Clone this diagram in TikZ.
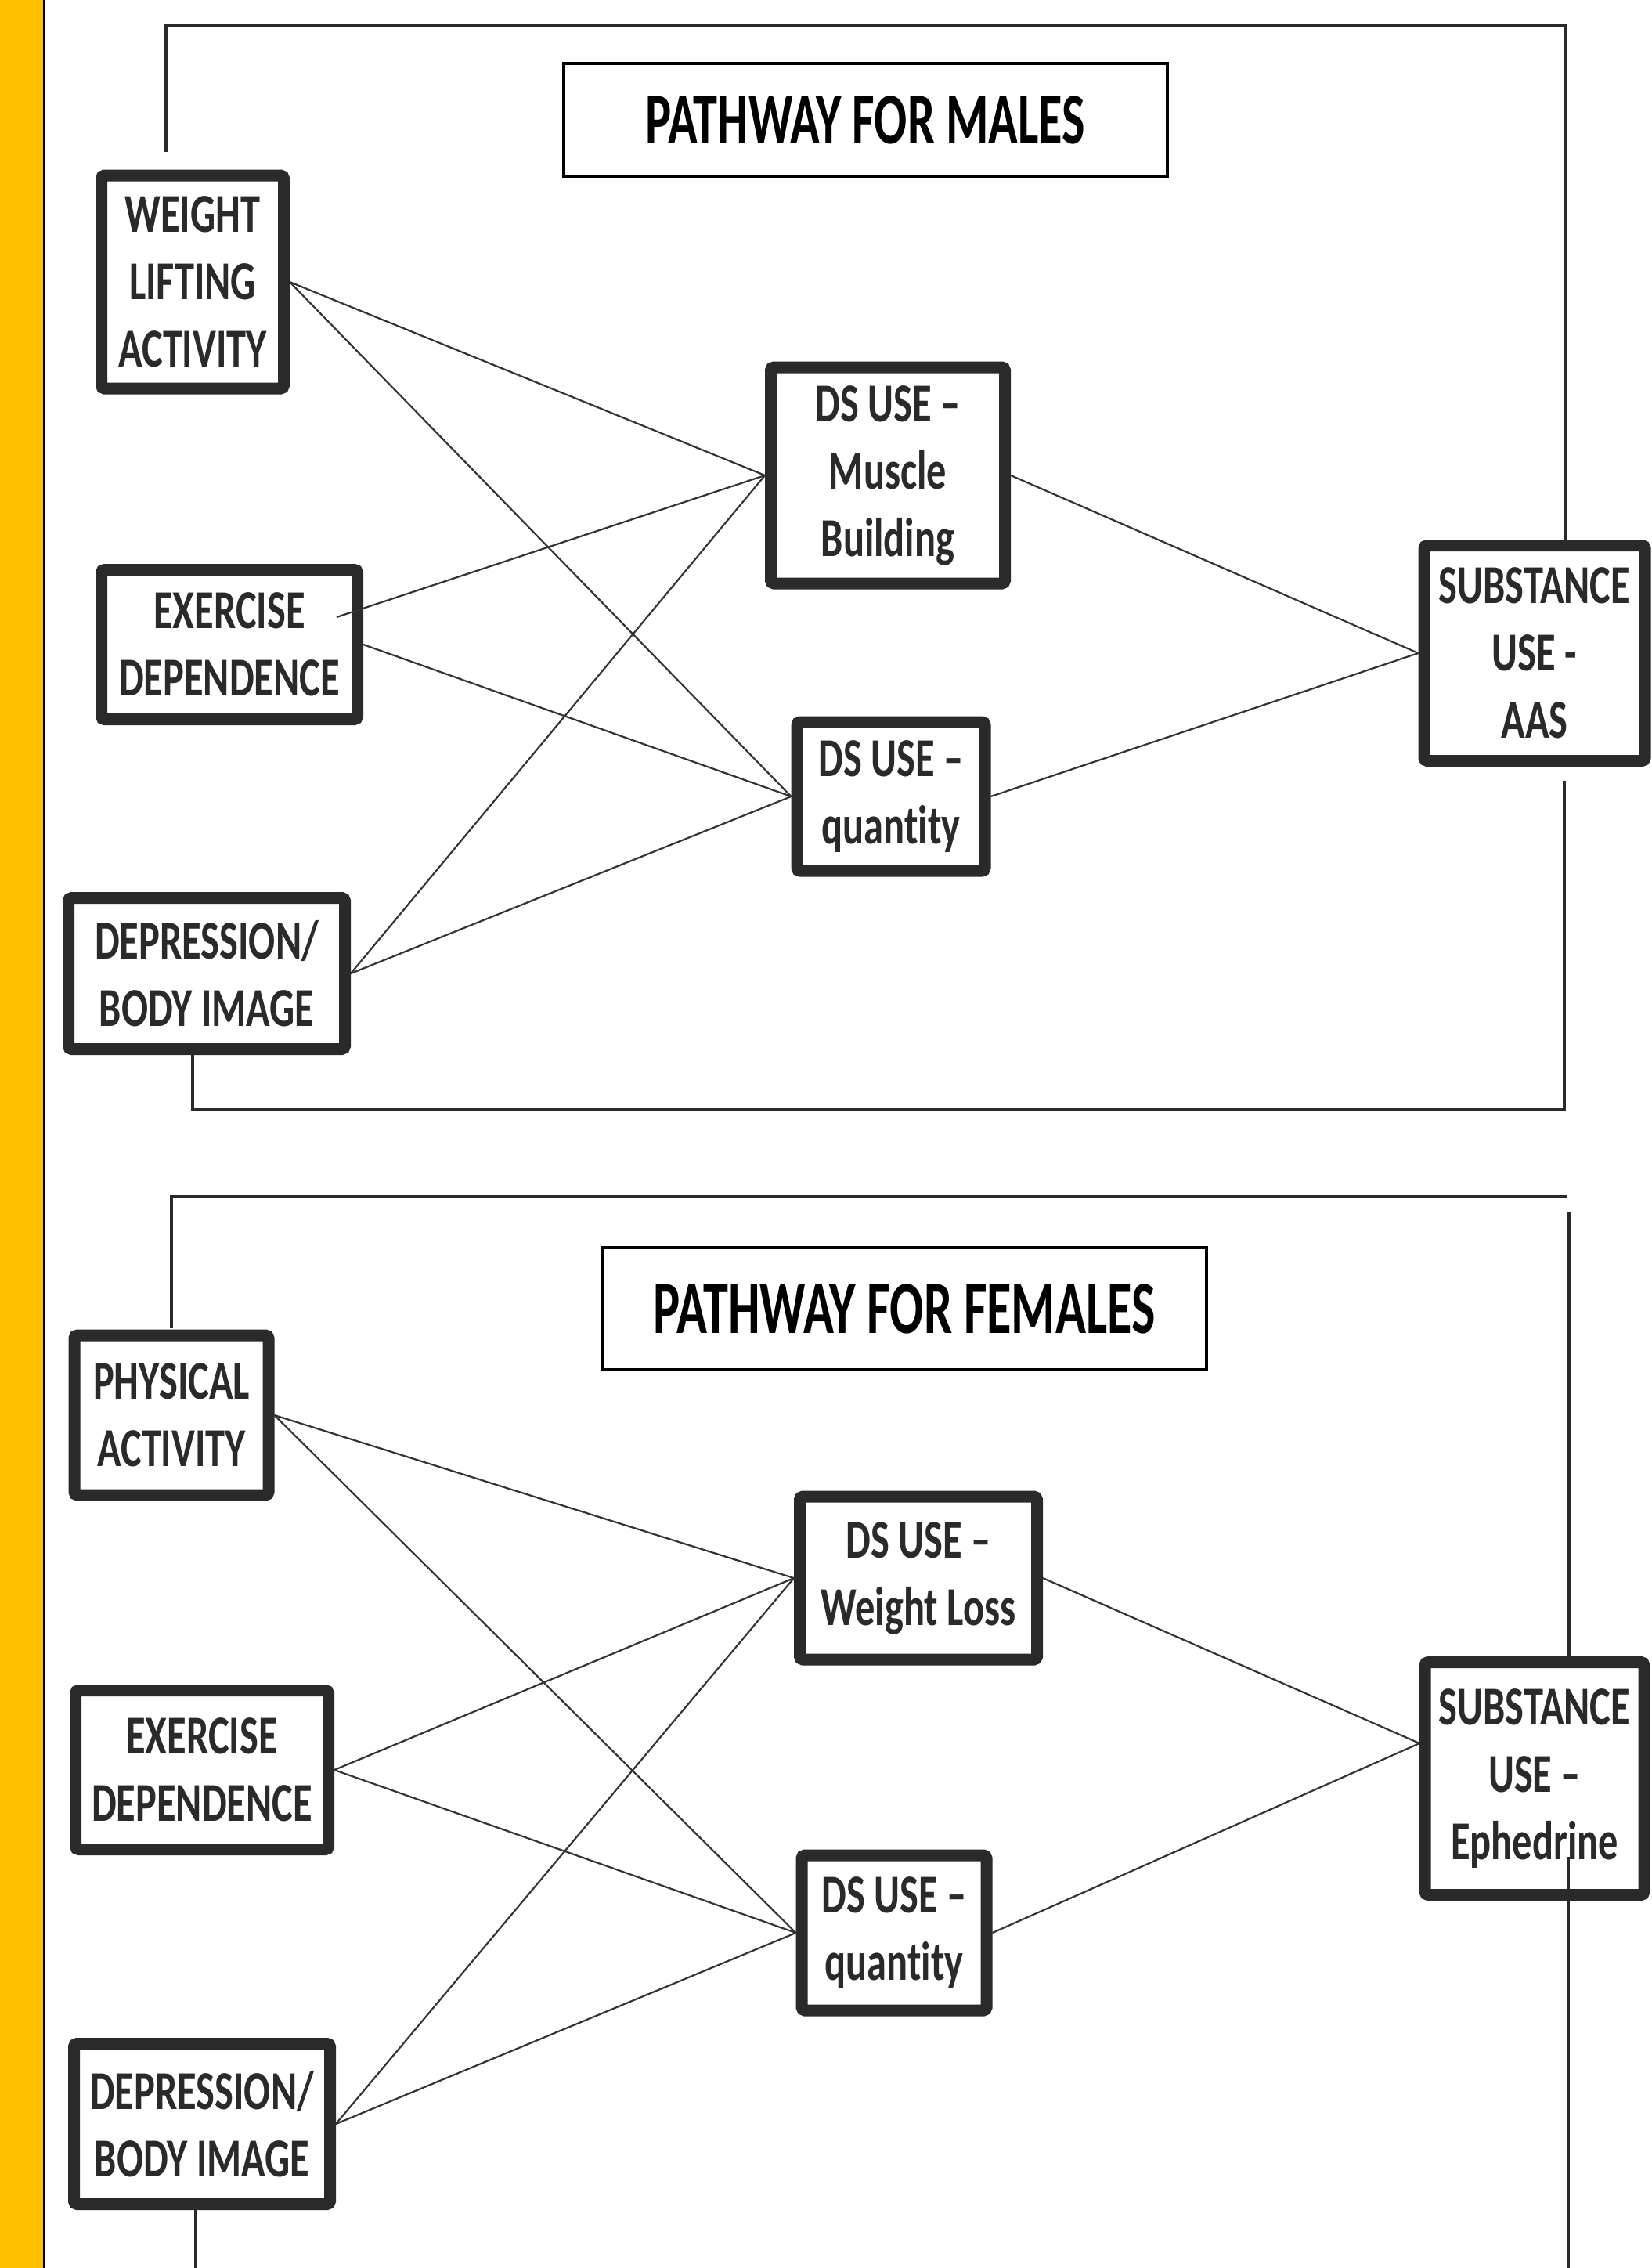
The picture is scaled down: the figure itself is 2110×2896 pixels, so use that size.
\documentclass[tikz,border=0pt]{standalone}
\usepackage{fontspec}
\setmainfont{Carlito}
\newfontfamily\boxfont{Carlito}[FakeStretch=0.72, Ligatures={TeX,NoCommon}]
\newfontfamily\headfont{Carlito}[FakeStretch=0.67, Ligatures={TeX,NoCommon}]
\definecolor{gold}{HTML}{FFC000}
\definecolor{boxgray}{HTML}{2A2A2A}
\definecolor{linkgray}{HTML}{333333}

\begin{document}
\begin{tikzpicture}[x=0.25pt, y=-0.25pt,
	varbox/.style={draw=boxgray, line width=3.75pt, fill=white, rounded corners=1pt, inner sep=0pt,
		align=center, text=boxgray, font=\boxfont\bfseries\fontsize{17.5pt}{21.5pt}\selectfont},
	titlebox/.style={draw=black, line width=1pt, fill=white, inner sep=0pt,
		font=\headfont\bfseries\fontsize{23.25pt}{28pt}\selectfont},
	link/.style={draw=linkgray, line width=0.55pt},
	framelin/.style={draw=boxgray, line width=0.8pt}]
	\useasboundingbox (0,0) rectangle (2110,2896);
	% side bar
	\fill[gold] (0,0) rectangle (55,2896);
	\draw[line width=0.5pt] (56,0) -- (56,2896);

	% frames
	\draw[framelin] (212,194) |- (1999,33) -- (1999,689);
	\draw[framelin] (1998,997) |- (246,1417) -- (246,1347);
	\draw[framelin] (219,1696) |- (2001,1528);
	\draw[framelin] (2004,1548) -- (2004,2115);
	\draw[framelin] (250,2822) -- (250,2896);

	% males
	\node[titlebox, minimum width=192.75pt, minimum height=36pt] (tm) at (1105,153) {PATHWAY FOR MALES};
	\node[varbox, minimum width=58.25pt, minimum height=68pt] (wla) at (246,360) {WEIGHT\\LIFTING\\ACTIVITY};
	\node[varbox, minimum width=81.75pt, minimum height=47.75pt] (exm) at (293,823) {EXERCISE\\DEPENDENCE};
	\node[varbox, minimum width=88.25pt, minimum height=48.25pt] (depm) at (264,1243) {DEPRESSION/\\BODY IMAGE};
	\node[varbox, minimum width=74.75pt, minimum height=69pt] (musc) at (1134,607) {DS USE –\\Muscle\\Building};
	\node[varbox, minimum width=60pt, minimum height=47.5pt] (qtym) at (1138,1017) {DS USE –\\quantity};
	\node[varbox, minimum width=70.5pt, minimum height=68.75pt] (aas) at (1960,834) {SUBSTANCE\\USE -\\AAS};
	\coordinate (exIn) at (430,788);

	\draw[link] (wla.east) -- (musc.west);
	\draw[link] (wla.east) -- (qtym.west);
	\draw[link] (exIn) -- (musc.west);
	\draw[link] (exm.east) -- (qtym.west);
	\draw[link] (depm.east) -- (musc.west);
	\draw[link] (depm.east) -- (qtym.west);
	\draw[link] (musc.east) -- (aas.west);
	\draw[link] (qtym.east) -- (aas.west);

	% females
	\node[titlebox, minimum width=192.75pt, minimum height=39pt, font=\headfont\bfseries\fontsize{24pt}{28pt}\selectfont] (tf) at (1155,1671) {PATHWAY FOR FEMALES};
	\node[varbox, minimum width=62pt, minimum height=51pt] (phys) at (219,1807) {PHYSICAL\\ACTIVITY};
	\node[varbox, minimum width=80.75pt, minimum height=50.75pt] (exf) at (258,2260) {EXERCISE\\DEPENDENCE};
	\node[varbox, minimum width=81.75pt, minimum height=51.25pt] (depf) at (258,2712) {DEPRESSION/\\BODY IMAGE};
	\node[varbox, minimum width=75.75pt, minimum height=52pt] (wl) at (1173,2015) {DS USE –\\Weight Loss};
	\node[varbox, minimum width=59pt, minimum height=49.5pt] (qtyf) at (1142,2468) {DS USE –\\quantity};
	\node[varbox, minimum width=70pt, minimum height=74.25pt] (eph) at (1960,2271) {SUBSTANCE\\USE –\\Ephedrine};
	\coordinate (ephIn) at (1813,2226);

	\draw[link] (phys.east) -- (wl.west);
	\draw[link] (phys.east) -- (qtyf.west);
	\draw[link] (exf.east) -- (wl.west);
	\draw[link] (exf.east) -- (qtyf.west);
	\draw[link] (depf.east) -- (wl.west);
	\draw[link] (depf.east) -- (qtyf.west);
	\draw[link] (wl.east) -- (ephIn);
	\draw[link] (qtyf.east) -- (ephIn);

	\draw[framelin] (2003,2371) -- (2003,2896);
\end{tikzpicture}
\end{document}
